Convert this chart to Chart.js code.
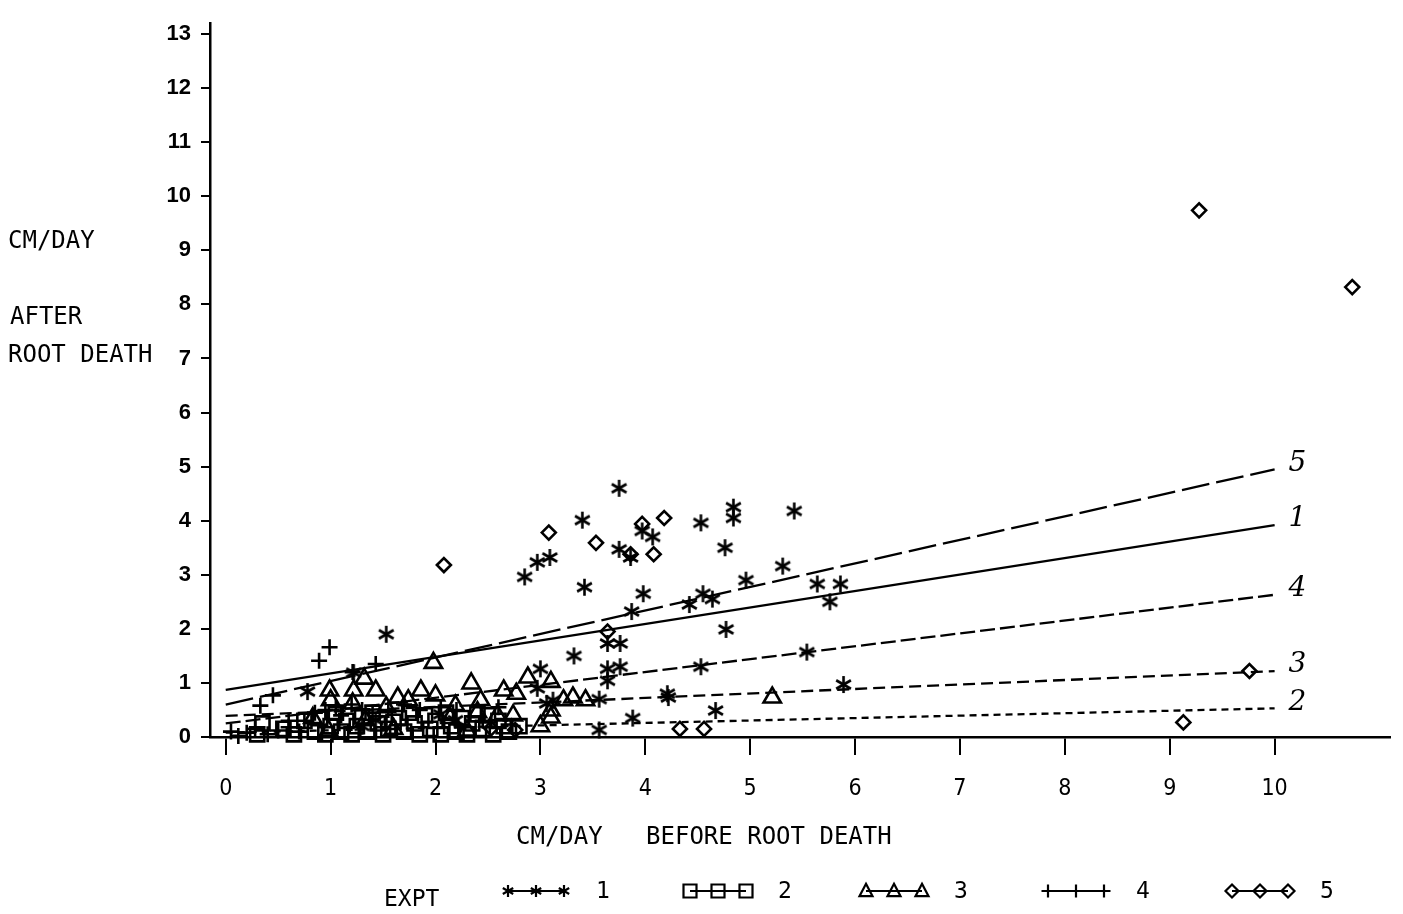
<!DOCTYPE html>
<html>
<head>
<meta charset="utf-8">
<title>Root growth before and after root death</title>
<script src="https://cdn.jsdelivr.net/npm/chart.js@4.4.1/dist/chart.umd.min.js"></script>
<style>
  html, body { margin: 0; padding: 0; background: #fff; }
  canvas { display: block; }
</style>
</head>
<body>
<canvas id="chart" width="1403" height="914"></canvas>
<script>
// tick values
const xTicks = [0, 1, 2, 3, 4, 5, 6, 7, 8, 9, 10];
const yTicks = [0, 1, 2, 3, 4, 5, 6, 7, 8, 9, 10, 11, 12, 13];

// EXPT 1 (asterisks): [before, after]
const expt1 = [
  [0.78, 0.84], [1.22, 1.19], [1.53, 1.90], [2.85, 2.96], [2.97, 3.23], [3.09, 3.32],
  [3.75, 4.60], [3.40, 4.01], [3.42, 2.77], [3.00, 1.26], [2.97, 0.90], [3.32, 1.50],
  [3.75, 3.47], [3.86, 3.32], [3.97, 3.81], [4.07, 3.70], [3.98, 2.65], [3.87, 2.32],
  [4.42, 2.45], [4.53, 3.96], [4.55, 2.65], [4.64, 2.55], [4.84, 4.25], [4.84, 4.05],
  [4.76, 3.50], [4.77, 1.99], [4.96, 2.90], [5.31, 3.16], [5.42, 4.18], [5.64, 2.83],
  [5.86, 2.83], [5.76, 2.50], [5.89, 0.97], [5.54, 1.57], [4.53, 1.30], [4.21, 0.80],
  [4.22, 0.73], [4.67, 0.49], [3.88, 0.35], [3.56, 0.13], [3.64, 1.73], [3.76, 1.73],
  [3.64, 1.26], [3.76, 1.30], [3.64, 1.04], [3.12, 0.68], [3.56, 0.70], [3.06, 0.62],
  [1.43, 0.31], [2.19, 0.31], [1.30, 0.20], [2.05, 0.42]
];

// EXPT 2 (squares)
const expt2 = [
  [0.30, 0.05], [0.35, 0.25], [0.55, 0.15], [0.75, 0.30], [0.85, 0.10], [0.90, 0.35],
  [0.95, 0.05], [1.00, 0.20], [1.05, 0.45], [1.10, 0.10], [1.15, 0.30], [1.20, 0.05],
  [1.25, 0.20], [1.30, 0.38], [1.35, 0.10], [1.45, 0.25], [1.50, 0.05], [1.55, 0.15],
  [1.65, 0.35], [1.70, 0.10], [1.80, 0.25], [1.85, 0.05], [1.90, 0.40], [1.95, 0.15],
  [2.00, 0.30], [2.05, 0.05], [2.10, 0.45], [2.15, 0.20], [2.20, 0.10], [2.25, 0.35],
  [2.30, 0.05], [2.35, 0.25], [2.45, 0.15], [2.50, 0.40], [2.55, 0.05], [2.60, 0.30],
  [2.70, 0.10], [2.80, 0.20], [1.75, 0.45], [1.40, 0.45], [2.40, 0.42], [0.65, 0.05],
  [1.60, 0.28], [2.65, 0.20]
];

// EXPT 3 (triangles)
const expt3 = [
  [1.98, 1.37], [2.34, 0.99], [0.99, 0.86], [1.22, 0.86], [1.32, 1.08], [1.43, 0.86],
  [1.64, 0.73], [1.86, 0.86], [2.00, 0.77], [2.43, 0.68], [2.65, 0.86], [2.88, 1.10],
  [2.77, 0.80], [3.10, 1.02], [3.10, 0.49], [3.10, 0.36], [3.31, 0.73], [3.22, 0.68],
  [3.43, 0.68], [3.00, 0.20], [5.21, 0.73], [2.74, 0.40], [2.59, 0.40], [1.00, 0.68],
  [1.21, 0.62], [1.53, 0.55], [1.74, 0.68], [2.19, 0.58], [2.40, 0.46], [0.83, 0.35],
  [1.33, 0.31], [2.14, 0.35], [1.60, 0.15], [2.30, 0.12], [0.98, 0.12]
];

// EXPT 4 (plus signs)
const expt4 = [
  [0.89, 1.41], [0.99, 1.66], [1.21, 1.20], [1.43, 1.35], [0.33, 0.58], [0.45, 0.77],
  [0.12, 0.02], [0.20, 0.08], [0.28, 0.15], [0.40, 0.05], [0.50, 0.12], [0.60, 0.18],
  [0.70, 0.10], [0.75, 0.30], [0.85, 0.45], [0.95, 0.50], [1.05, 0.55], [1.10, 0.40],
  [1.20, 0.60], [1.30, 0.50], [1.40, 0.45], [1.55, 0.50], [1.70, 0.60], [1.85, 0.50],
  [2.05, 0.55], [2.20, 0.50], [2.45, 0.30], [2.60, 0.55], [0.05, 0.10], [0.60, 0.30]
];

// EXPT 5 (diamonds)
const expt5 = [
  [9.28, 9.74], [10.74, 8.32], [9.76, 1.22], [9.13, 0.27], [2.08, 3.18], [3.08, 3.78],
  [3.53, 3.59], [3.86, 3.38], [3.97, 3.94], [4.18, 4.05], [4.08, 3.38], [3.64, 1.95],
  [4.33, 0.15], [4.56, 0.15], [2.76, 0.13], [2.53, 0.16]
];

// fitted lines per experiment, value at x=0 and x=10
const exptNames = ["1", "2", "3", "4", "5"];
const fitX = [0, 10];
const fitStart = [0.87, 0.08, 0.39, 0.25, 0.60];
const fitEnd = [3.92, 0.53, 1.22, 2.63, 4.95];

const INK = "#000";
const lineDash = [[], [7, 5], [12, 6], [15, 5], [28, 7]];

function makeAsterisk(size, width) {
  const c = document.createElement("canvas");
  c.width = size;
  c.height = size;
  const g = c.getContext("2d");
  g.strokeStyle = INK;
  g.lineWidth = width;
  const r = size / 2 - 1;
  for (let k = 0; k < 3; k++) {
    const a = Math.PI / 2 + k * Math.PI / 3;
    g.beginPath();
    g.moveTo(size / 2 + r * Math.cos(a), size / 2 + r * Math.sin(a));
    g.lineTo(size / 2 - r * Math.cos(a), size / 2 - r * Math.sin(a));
    g.stroke();
  }
  return c;
}

const asterisk = makeAsterisk(19, 2.6);
const asteriskSmall = makeAsterisk(14, 2.2);

const pointSets = [expt1, expt2, expt3, expt4, expt5];
const pointStyles = [asterisk, "rect", "triangle", "cross", "rectRot"];
const pointRadii = [9, 10, 10, 8, 7];

const toXY = (arr) => arr.map(([x, y]) => ({ x: x, y: y }));

const datasets = [];
pointSets.forEach((set, i) => {
  datasets.push({
    type: "scatter",
    label: "EXPT " + exptNames[i],
    data: toXY(set),
    pointStyle: pointStyles[i],
    pointRadius: pointRadii[i],
    pointBorderWidth: 2.6,
    pointBorderColor: INK,
    pointBackgroundColor: "rgba(0,0,0,0)",
    clip: false,
  });
});
exptNames.forEach((name, i) => {
  datasets.push({
    type: "line",
    label: "fit " + name,
    data: [{ x: fitX[0], y: fitStart[i] }, { x: fitX[1], y: fitEnd[i] }],
    borderColor: INK,
    borderWidth: 2.3,
    borderDash: lineDash[i],
    pointRadius: 0,
    fill: false,
  });
});

function drawSymbol(ctx, style, x, y, r) {
  ctx.save();
  ctx.strokeStyle = INK;
  ctx.lineWidth = 2.2;
  ctx.beginPath();
  if (style === "rect") {
    ctx.rect(x - r, y - r, 2 * r, 2 * r);
  } else if (style === "triangle") {
    ctx.moveTo(x, y - r * 1.1);
    ctx.lineTo(x + r, y + r * 0.8);
    ctx.lineTo(x - r, y + r * 0.8);
    ctx.closePath();
  } else if (style === "cross") {
    ctx.moveTo(x - r, y); ctx.lineTo(x + r, y);
    ctx.moveTo(x, y - r); ctx.lineTo(x, y + r);
  } else if (style === "rectRot") {
    ctx.moveTo(x, y - r); ctx.lineTo(x + r, y);
    ctx.lineTo(x, y + r); ctx.lineTo(x - r, y);
    ctx.closePath();
  } else {
    ctx.drawImage(asteriskSmall, x - asteriskSmall.width / 2, y - asteriskSmall.height / 2);
  }
  ctx.stroke();
  ctx.restore();
}

const annotations = {
  id: "annotations",
  afterDraw(chart) {
    const ctx = chart.ctx;
    const xs = chart.scales.x;
    const ys = chart.scales.y;
    ctx.save();
    ctx.fillStyle = INK;

    // left axis caption
    ctx.font = "24px 'DejaVu Sans Mono'";
    ctx.textAlign = "left";
    ctx.textBaseline = "middle";
    ctx.fillText("CM/DAY", 8, 242);
    ctx.fillText("AFTER", 10, 318);
    ctx.fillText("ROOT DEATH", 8, 356);

    // bottom axis caption
    ctx.fillText("CM/DAY   BEFORE ROOT DEATH", 516, 838);

    // labels at the ends of the fitted lines
    ctx.font = "italic 28px 'DejaVu Serif'";
    ctx.textAlign = "left";
    exptNames.forEach((name, i) => {
      const px = xs.getPixelForValue(fitX[1]) + 14;
      const py = ys.getPixelForValue(fitEnd[i]) - 6;
      ctx.fillText(name, px, py);
    });

    // legend
    ctx.font = "23px 'DejaVu Sans Mono'";
    ctx.fillText("EXPT", 384, 900);
    const groupStart = [508, 690, 866, 1048, 1232];
    exptNames.forEach((name, i) => {
      const x0 = groupStart[i];
      const y0 = 891;
      ctx.save();
      ctx.strokeStyle = INK;
      ctx.lineWidth = 1.8;
      ctx.beginPath();
      ctx.moveTo(x0, y0);
      ctx.lineTo(x0 + 56, y0);
      ctx.stroke();
      ctx.restore();
      const st = typeof pointStyles[i] === "string" ? pointStyles[i] : "asterisk";
      for (let j = 0; j < 3; j++) {
        drawSymbol(ctx, st, x0 + j * 28, y0, 6.5);
      }
      ctx.fillText(name, x0 + 88, y0 + 1);
    });
    ctx.restore();
  },
};

new Chart(document.getElementById("chart"), {
  data: { datasets: datasets },
  options: {
    responsive: false,
    animation: false,
    events: [],
    layout: { padding: { top: 12, right: 13, left: 0, bottom: 0 } },
    plugins: {
      legend: { display: false },
      tooltip: { enabled: false },
      title: { display: false },
    },
    scales: {
      x: {
        type: "linear",
        min: -0.15,
        max: 11.1,
        afterBuildTicks: (scale) => { scale.ticks = xTicks.map((v) => ({ value: v })); },
        afterFit: (scale) => { scale.height = 177; },
        border: { display: true, color: INK, width: 2.5 },
        grid: { drawOnChartArea: false, drawTicks: true, tickLength: 18, color: INK, lineWidth: 2 },
        ticks: {
          color: INK,
          padding: 20,
          maxRotation: 0,
          font: { family: "'DejaVu Sans Condensed', 'DejaVu Sans'", size: 23 },
        },
      },
      y: {
        type: "linear",
        min: 0,
        max: 13.2,
        afterBuildTicks: (scale) => { scale.ticks = yTicks.map((v) => ({ value: v })); },
        afterFit: (scale) => { scale.width = 210; },
        border: { display: true, color: INK, width: 2.5 },
        grid: { drawOnChartArea: false, drawTicks: true, tickLength: 9, color: INK, lineWidth: 2 },
        ticks: {
          color: INK,
          padding: 10,
          font: { family: "'Liberation Sans', Arial", size: 22, weight: "bold" },
        },
      },
    },
  },
  plugins: [annotations],
});
</script>
</body>
</html>
